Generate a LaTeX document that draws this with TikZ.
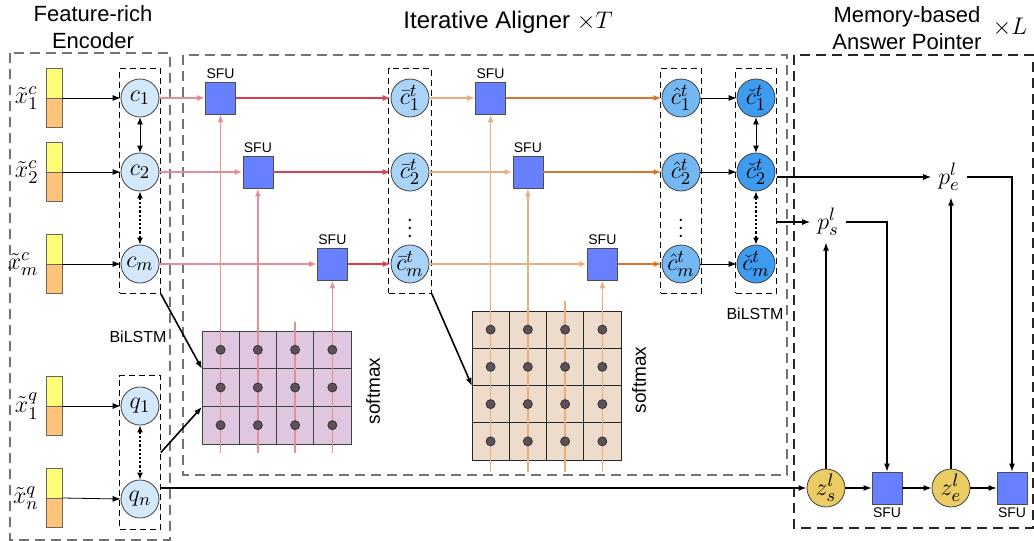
\documentclass[tikz,border=0pt]{standalone}
\usepackage[no-math]{fontspec}
\setmainfont{Liberation Sans}
\usetikzlibrary{arrows.meta,fit,calc}

\definecolor{cA}{HTML}{D3E8FA}
\definecolor{cB}{HTML}{A9D3F7}
\definecolor{cC}{HTML}{74B8F3}
\definecolor{cD}{HTML}{3E9BEF}
\definecolor{zgold}{HTML}{EACB64}
\definecolor{sfublue}{HTML}{6680FF}
\definecolor{fyellow}{HTML}{FFFF77}
\definecolor{forange}{HTML}{FFC477}
\definecolor{redline}{HTML}{D6424E}
\definecolor{orgline}{HTML}{DC7626}
\definecolor{gridpurple}{HTML}{E0C7E0}
\definecolor{gridbeige}{HTML}{EDDCCB}
\definecolor{dotgray}{HTML}{5E5058}

\tikzset{
    tiparr/.style={-{Latex[length=4pt,width=3pt]}},
    dbarr/.style={{Latex[length=3.5pt,width=3pt]}-{Latex[length=3.5pt,width=3pt]}},
    cnode/.style={circle,draw=black!75,inner sep=0pt,minimum size=19pt,font=\fontsize{12.5}{14}\selectfont},
    sfu/.style={draw=black!70,fill=sfublue,minimum width=15pt,minimum height=16pt,inner sep=0pt},
    sfulab/.style={font=\fontsize{7}{8}\selectfont,inner sep=1.5pt},
    xlab/.style={font=\fontsize{13}{15}\selectfont},
    featbar/.style={draw=black!60,minimum width=8pt,minimum height=29.5pt,inner sep=0pt,
        path picture={
            \fill[fyellow] (path picture bounding box.north west) rectangle (path picture bounding box.east);
            \fill[forange] (path picture bounding box.west) rectangle (path picture bounding box.south east);
            \draw[black!60] (path picture bounding box.west) -- (path picture bounding box.east);}},
    colbox/.style={draw,densely dashed,inner xsep=0.5pt,inner ysep=5pt},
    outbox/.style={draw=black!55,dash pattern=on 5pt off 3pt,line width=0.8pt},
    title/.style={font=\fontsize{11}{13.5}\selectfont,align=center},
    txt/.style={font=\fontsize{8}{9}\selectfont},
    redlt/.style={draw=redline!60,line width=0.8pt},
    reddk/.style={draw=redline,line width=0.9pt},
    orglt/.style={draw=orgline!60,line width=0.8pt},
    orgdk/.style={draw=orgline,line width=0.9pt},
    dot/.style={circle,fill=dotgray,draw=black!80,inner sep=0pt,minimum size=4.5pt},
}

\begin{document}
\begin{tikzpicture}[x=0.5pt,y=-0.5pt]
    \useasboundingbox (0,0) rectangle (1034,541);

    % outer boxes and titles
    \draw[outbox] (10,53) rectangle (170,540);
    \draw[outbox] (183,55) rectangle (787,475);
    \draw[outbox,draw=black!85] (794,55) rectangle (1033,528);
    \node[title] (enct) at (93,27) {Feature-rich\\Encoder};
    \node[title,font=\fontsize{12}{14}\selectfont] (alit) at (508,22) {Iterative Aligner $\times T$};
    \node[title] (memt) at (907,28) {Memory-based\\Answer Pointer};
    \node[xlab] (meml) at (1010,27) {$\times L$};

    % encoder
    \node[featbar,label={[xlab]left:$\tilde{x}^c_1$}] (xc1) at (54,98)  {};
    \node[featbar,label={[xlab]left:$\tilde{x}^c_2$}] (xc2) at (54,172) {};
    \node[featbar,label={[xlab]left:$\tilde{x}^c_m$}] (xcm) at (54,264) {};
    \node[featbar,label={[xlab]left:$\tilde{x}^q_1$}] (xq1) at (54,406) {};
    \node[featbar,label={[xlab]left:$\tilde{x}^q_n$}] (xqn) at (54,498) {};

    \node[cnode,fill=cA] (c1) at (140,98)  {$c_1$};
    \node[cnode,fill=cA] (c2) at (140,172) {$c_2$};
    \node[cnode,fill=cA] (cm) at (140,264) {$c_m$};
    \node[cnode,fill=cA] (q1) at (140,406) {$q_1$};
    \node[cnode,fill=cA] (qn) at (140,499) {$q_n$};
    \node[colbox,fit=(c1)(cm)] (cbox) {};
    \node[colbox,inner ysep=5.5pt,fit=(q1)(qn)] (qbox) {};
    \node[txt] (bil1) at (138,337) {BiLSTM};

    \draw[tiparr] (xc1.east) -- (c1.west);
    \draw[tiparr] (xc2.east) -- (c2.west);
    \draw[tiparr] (xcm.east) -- (cm.west);
    \draw[tiparr] (xq1.east) -- (q1.west);
    \draw[tiparr] (xqn.east) -- (qn.west);
    \draw[dbarr] (c1) -- (c2);
    \draw[dbarr,densely dotted,line width=1.1pt] (c2) -- (cm);
    \draw[dbarr,densely dotted,line width=1.1pt] (q1) -- (qn);

    % first attention grid
    \node[draw=black!75,fill=gridpurple,minimum width=74.5pt,minimum height=56.5pt,anchor=north west] (att1) at (202,331) {};
    \foreach \i in {1,2,3}
        \draw[black!75] ($(att1.north west)+(37.25*\i,0)$) -- ($(att1.south west)+(37.25*\i,0)$);
    \foreach \j in {1,2}
        \draw[black!75] ($(att1.north west)+(0,37.67*\j)$) -- ($(att1.north east)+(0,37.67*\j)$);
    \node[font=\fontsize{9.5}{10}\selectfont,rotate=90] (sm1) at (373,391) {softmax};

    \node[sfu,label={[sfulab]above:SFU}] (s1) at (220.6,98)  {};
    \node[sfu,label={[sfulab]above:SFU}] (s2) at (257.9,172) {};
    \node[sfu,label={[sfulab]above:SFU}] (s3) at (332.4,264) {};
    \coordinate (a1c3) at (295.1,322);

    \draw[redlt,tiparr] ([yshift=-4pt]att1.south -| s1.south) -- (s1.south);
    \draw[redlt,tiparr] ([yshift=-4pt]att1.south -| s2.south) -- (s2.south);
    \draw[redlt] ([yshift=-4pt]att1.south -| a1c3) -- (a1c3);
    \draw[redlt,tiparr] ([yshift=-4pt]att1.south -| s3.south) -- (s3.south);
    \foreach \i in {0,...,3}
        \foreach \j in {0,1,2}
            \node[dot] at ($(att1.north west)+(18.6+37.25*\i,18.8+37.67*\j)$) {};

    \node[cnode,fill=cB] (cb1) at (410,98)  {$\bar{c}^t_1$};
    \node[cnode,fill=cB] (cb2) at (410,172) {$\bar{c}^t_2$};
    \node[cnode,fill=cB] (cbm) at (410,264) {$\bar{c}^t_m$};
    \node (cbdots) at (410,222) {$\vdots$};
    \node[colbox,inner xsep=1pt,fit=(cb1)(cbm)] (cbbox) {};

    \draw[redlt,tiparr] (c1.east) -- (s1.west);
    \draw[redlt,tiparr] (c2.east) -- (s2.west);
    \draw[redlt,tiparr] (cm.east) -- (s3.west);
    \draw[reddk,tiparr] (s1.east) -- (cb1.west);
    \draw[reddk,tiparr] (s2.east) -- (cb2.west);
    \draw[reddk,tiparr] (s3.east) -- (cbm.west);

    \draw[tiparr,line width=0.8pt] (cbox.south east) -- ($(att1.north west)!1/3!(att1.south west)$);
    \draw[tiparr,line width=0.8pt] (qbox.east) -- ($(att1.north west)!2/3!(att1.south west)$);

    % second attention grid
    \node[draw=black!85,fill=gridbeige,minimum width=74.5pt,minimum height=74.5pt,anchor=north west] (att2) at (472,311) {};
    \foreach \i in {1,2,3}
        \draw[black!85] ($(att2.north west)+(37.25*\i,0)$) -- ($(att2.south west)+(37.25*\i,0)$);
    \foreach \j in {1,2,3}
        \draw[black!85] ($(att2.north west)+(0,37.25*\j)$) -- ($(att2.north east)+(0,37.25*\j)$);
    \node[font=\fontsize{9.5}{10}\selectfont,rotate=90] (sm2) at (639,380) {softmax};

    \node[sfu,label={[sfulab]above:SFU}] (s4) at (490.6,98)  {};
    \node[sfu,label={[sfulab]above:SFU}] (s5) at (527.9,172) {};
    \node[sfu,label={[sfulab]above:SFU}] (s6) at (602.4,264) {};
    \coordinate (a2c3) at (565.1,301);

    \draw[orglt,tiparr] ([yshift=-5.5pt]att2.south -| s4.south) -- (s4.south);
    \draw[orglt,tiparr] ([yshift=-5.5pt]att2.south -| s5.south) -- (s5.south);
    \draw[orglt] ([yshift=-5.5pt]att2.south -| a2c3) -- (a2c3);
    \draw[orglt,tiparr] ([yshift=-5.5pt]att2.south -| s6.south) -- (s6.south);
    \foreach \i in {0,...,3}
        \foreach \j in {0,...,3}
            \node[dot] at ($(att2.north west)+(18.6+37.25*\i,18.6+37.25*\j)$) {};

    \node[cnode,fill=cC] (ch1) at (681,98)  {$\hat{c}^t_1$};
    \node[cnode,fill=cC] (ch2) at (681,172) {$\hat{c}^t_2$};
    \node[cnode,fill=cC] (chm) at (681,264) {$\hat{c}^t_m$};
    \node (chdots) at (681,222) {$\vdots$};
    \node[colbox,fit=(ch1)(chm)] (chbox) {};

    \node[cnode,fill=cD] (ck1) at (756,98)  {$\check{c}^t_1$};
    \node[cnode,fill=cD] (ck2) at (756,172) {$\check{c}^t_2$};
    \node[cnode,fill=cD] (ckm) at (756,264) {$\check{c}^t_m$};
    \node[colbox,fit=(ck1)(ckm)] (ckbox) {};
    \node[txt] (bil2) at (755,314) {BiLSTM};

    \draw[orglt,tiparr] (cb1.east) -- (s4.west);
    \draw[orglt,tiparr] (cb2.east) -- (s5.west);
    \draw[orglt,tiparr] (cbm.east) -- (s6.west);
    \draw[orgdk,tiparr] (s4.east) -- (ch1.west);
    \draw[orgdk,tiparr] (s5.east) -- (ch2.west);
    \draw[orgdk,tiparr] (s6.east) -- (chm.west);

    \draw[tiparr,line width=0.8pt] (cbbox.south east) -- (att2.west);

    \draw[tiparr] (ch1.east) -- (ck1.west);
    \draw[tiparr] (ch2.east) -- (ck2.west);
    \draw[tiparr] (chm.east) -- (ckm.west);
    \draw[dbarr] (ck1) -- (ck2);
    \draw[dbarr,densely dotted,line width=1.1pt] (ck2) -- (ckm);

    % answer pointer
    \node[xlab] (ps) at (828,222) {$p^l_s$};
    \node[xlab] (pe) at (949,177) {$p^l_e$};
    \node[cnode,fill=zgold] (zs) at (826,488) {$z^l_s$};
    \node[cnode,fill=zgold] (ze) at (951,488) {$z^l_e$};
    \node[sfu,label={[sfulab]below:SFU}] (s7) at (887,488)  {};
    \node[sfu,label={[sfulab]below:SFU}] (s8) at (1012,488) {};

    \draw[tiparr,line width=0.6pt] (ckbox.east |- pe.west) -- (pe.west);
    \draw[tiparr,line width=0.6pt] (ckbox.east |- ps.west) -- (ps.west);
    \draw[tiparr,line width=0.6pt] (ps.east) -| (s7.north);
    \draw[tiparr,line width=0.6pt] (pe.east) -| (s8.north);
    \draw[tiparr,line width=0.6pt] (zs.north) -- (zs.north |- ps.south);
    \draw[tiparr,line width=0.6pt] (ze.north) -- (ze.north |- pe.south);
    \draw[tiparr,line width=0.8pt] (qbox.east |- zs.west) -- (zs.west);
    \draw[tiparr,line width=0.6pt] (zs.east) -- (s7.west);
    \draw[tiparr,line width=0.6pt] (s7.east) -- (ze.west);
    \draw[tiparr,line width=0.6pt] (ze.east) -- (s8.west);
\end{tikzpicture}
\end{document}
